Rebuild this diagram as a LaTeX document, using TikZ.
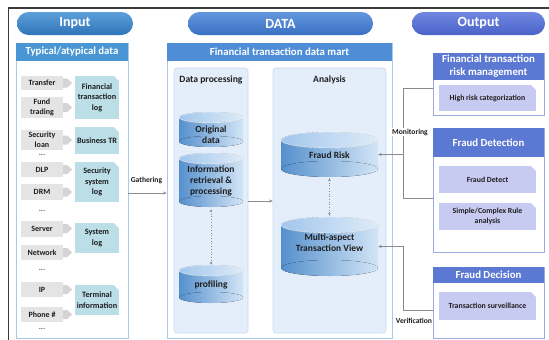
\documentclass[tikz,border=0pt]{standalone}
\usepackage{fontspec}
\setmainfont{Carlito}
\usetikzlibrary{arrows.meta}

\definecolor{frameC}{HTML}{3A3A3A}
\definecolor{pinTop}{HTML}{5DA0DA}
\definecolor{pinBot}{HTML}{2F74B8}
\definecolor{pdTop}{HTML}{6398DE}
\definecolor{pdBot}{HTML}{3A70C2}
\definecolor{poTop}{HTML}{7088E0}
\definecolor{poBot}{HTML}{4A62C8}
\definecolor{titleIn}{HTML}{4A96D4}
\definecolor{titleMart}{HTML}{4F8ED6}
\definecolor{titleOut}{HTML}{5B78D3}
\definecolor{tealC}{HTML}{BBDEE7}
\definecolor{grayC}{HTML}{E4E4E4}
\definecolor{tipC}{HTML}{D4D4D4}
\definecolor{panelBg}{HTML}{E3EEFA}
\definecolor{panelLine}{HTML}{C6DAF0}
\definecolor{inLine}{HTML}{A6CAEA}
\definecolor{outLine}{HTML}{9CAADF}
\definecolor{lavC}{HTML}{C8CBF1}
\definecolor{linkC}{HTML}{8A8A8A}
\definecolor{cylL}{HTML}{5590CD}
\definecolor{cylR}{HTML}{D3E5F6}
\definecolor{cylTL}{HTML}{A3C6EC}
\definecolor{cylTR}{HTML}{DDEBF8}
\definecolor{txtC}{HTML}{1E1E1E}

% database cylinder: name, centre x, top y, bottom y, x radius, y radius
\newcommand\dbcyl[6]{%
  \fill[left color=cylL, right color=cylR] ({#2-#5},{#3+#6}) rectangle ({#2+#5},{#4-#6});
  \fill[left color=cylL, right color=cylR] (#2,{#4-#6}) ellipse [x radius=#5, y radius=#6];
  \fill[left color=cylTL, right color=cylTR, draw=white!70!cylTR, line width=0.4pt]
    (#2,{#3+#6}) ellipse [x radius=#5, y radius=#6];
  \node[cylbox, minimum width={2*#5}, minimum height={#4-#3}] (#1) at (#2,{(#3+#4)/2}) {};
}

% grey source item with its small block arrow
\newcommand\inrow[4]{%
  \node[grayitem, minimum height=#3] (#1) at (42,#2) {#4};
  \fill[tipC] (#1.east) ++(0,-4.5) -- ++(4,0) -- ++(5,4.5) -- ++(-5,4.5) -- ++(-4,0) -- cycle;
}

\begin{document}
\begin{tikzpicture}[x=1pt, y=-1pt, font=\bfseries,
  pill/.style={rounded corners=11.5pt, minimum height=23, inner sep=0,
    text=white, font=\fontsize{14}{16}\selectfont\bfseries},
  titlebar/.style={inner sep=0, text=white, font=\fontsize{10.8}{13}\selectfont\bfseries},
  panelin/.style={draw=inLine, line width=0.8pt, inner sep=0},
  subpanel/.style={draw=panelLine, fill=panelBg, rounded corners=3pt, line width=0.6pt, inner sep=0},
  subhead/.style={inner sep=0, text=txtC, font=\fontsize{9.6}{11}\selectfont\bfseries},
  grayitem/.style={fill=grayC, minimum width=42, inner sep=0, align=center, text=txtC,
    font=\fontsize{8}{9.6}\selectfont\bfseries},
  cutcorner/.style={path picture={\fill[white] (path picture bounding box.north east)
    -- ++(-5pt,0) -- ++(5pt,-5pt) -- cycle;}},
  tealitem/.style={fill=tealC, cutcorner, minimum width=44, inner sep=0, align=center, text=txtC,
    font=\fontsize{8.2}{10.5}\selectfont\bfseries},
  dotsym/.style={inner sep=0, text=txtC!70, font=\fontsize{8}{9}\selectfont\bfseries},
  cylbox/.style={inner sep=0},
  cyltext/.style={inner sep=0, align=center, text=txtC, font=\fontsize{9.5}{11.2}\selectfont\bfseries},
  outbox/.style={draw=outLine, line width=0.7pt, minimum width=111, inner sep=0},
  outtitle/.style={fill=titleOut, minimum width=111, inner sep=0, align=center, text=white,
    font=\fontsize{10.8}{13}\selectfont\bfseries},
  lavitem/.style={fill=lavC, cutcorner, minimum width=97, inner sep=0, align=center, text=txtC,
    font=\fontsize{7.8}{10}\selectfont\bfseries},
  link/.style={draw=linkC, line width=0.6pt},
  tip/.style={-{Stealth[length=3.5pt, width=3pt]}},
  dottip/.style={{Stealth[length=3pt, width=2.6pt]}-{Stealth[length=3pt, width=2.6pt]}, dotted,
    draw=linkC, line width=0.7pt},
  lbl/.style={inner sep=1pt, text=txtC, font=\fontsize{7.6}{9}\selectfont\bfseries}
]
\useasboundingbox (0,0) rectangle (549,340);
\fill[white] (0,0) rectangle (549,340);
\draw[frameC, line width=1.1pt] (8.5,340) -- (8.5,8) -- (549,8);

% section headers
\node[pill, top color=pinTop, bottom color=pinBot, minimum width=116] (pin) at (75,23.5) {Input};
\node[pill, top color=pdTop, bottom color=pdBot, minimum width=185] (pdata) at (280.5,23.5) {DATA};
\node[pill, top color=poTop, bottom color=poBot, minimum width=133] (pout) at (478.5,23.5) {Output};

% ---- input sources
\node[panelin, minimum width=112, minimum height=295] (inp) at (72,190.5) {};
\node[titlebar, fill=titleIn, minimum width=112, minimum height=18] (inp-title) at (72,52) {Typical/atypical data};

\inrow{transfer}{83}{14}{Transfer}
\inrow{fund}{107.5}{21}{Fund\\trading}
\inrow{loan}{140}{20}{Security\\loan}
\inrow{dlp}{169.5}{15}{DLP}
\inrow{drm}{192}{16}{DRM}
\inrow{server}{228.5}{16}{Server}
\inrow{network}{252.5}{15}{Network}
\inrow{ip}{289.5}{15}{IP}
\inrow{phone}{314.5}{15}{Phone \#}

\node[tealitem, minimum height=43] (ftl) at (97,97.5) {Financial\\transaction\\log};
\node[tealitem, minimum height=27] (btr) at (97,140.5) {Business TR};
\node[tealitem, minimum height=40] (ssl) at (97,182) {Security\\system\\log};
\node[tealitem, minimum height=30] (syl) at (97,238) {System\\log};
\node[tealitem, minimum height=30] (term) at (97,300) {Terminal\\information};

\node[dotsym] (dots1) at (42,155) {...};
\node[dotsym] (dots2) at (42,211) {...};
\node[dotsym] (dots3) at (42,270) {...};
\node[dotsym] (dots4) at (42,329) {...};

% ---- data mart
\node[panelin, minimum width=225, minimum height=295] (mart) at (279.5,190.5) {};
\node[titlebar, fill=titleMart, minimum width=225, minimum height=18] (mart-title) at (279.5,52) {Financial transaction data mart};
\node[subpanel, minimum width=74, minimum height=265] (dp) at (211,200.5) {};
\node[subhead] (dp-title) at (211,80) {Data processing};
\node[subpanel, minimum width=113, minimum height=265] (an) at (329.5,200.5) {};
\node[subhead] (an-title) at (329.5,80) {Analysis};

\dbcyl{orig}{211}{112}{147}{32}{5.5}
\node[cyltext] (orig-t) at (211,135) {Original\\data};
\dbcyl{info}{211}{153}{207}{32}{5.5}
\node[cyltext] (info-t) at (211,181) {Information\\retrieval \&\\processing};
\dbcyl{prof}{211}{265}{303}{32}{5.5}
\node[cyltext] (prof-t) at (211,285) {profiling};
\dbcyl{fr}{329.5}{132}{177}{48.5}{8}
\node[cyltext] (fr-t) at (329.5,155) {Fraud Risk};
\dbcyl{mav}{329.5}{217}{276}{48.5}{8}
\node[cyltext] (mav-t) at (329.5,243) {Multi-aspect\\Transaction View};

\draw[dottip, shorten <=2pt] (info.south) -- (prof.north);
\draw[dottip, shorten <=1pt, shorten >=1pt] (fr.south) -- (mav.north);
\draw[link, tip] (dp.east |- 0,201) -- (an.west |- 0,201);

% ---- outputs
\node[outbox, minimum height=62] (ftrm) at (488.5,84) {};
\node[outtitle, minimum height=27] (ftrm-title) at (488.5,66.5) {Financial transaction\\risk management};
\node[lavitem, minimum height=26] (hrc) at (487.5,98) {High risk categorization};

\node[outbox, minimum height=124] (fd) at (488.5,190) {};
\node[outtitle, minimum height=29] (fd-title) at (488.5,142.5) {Fraud Detection};
\node[lavitem, minimum height=27] (fdet) at (487.5,179.5) {Fraud Detect};
\node[lavitem, minimum height=27] (rule) at (487.5,216.5) {Simple/Complex Rule\\analysis};

\node[outbox, minimum height=71] (fdec) at (488.5,302.5) {};
\node[outtitle, minimum height=16] (fdec-title) at (488.5,275) {Fraud Decision};
\node[lavitem, minimum height=28] (tsv) at (487.5,306) {Transaction surveillance};

% ---- connectors
\draw[link, tip] (inp.east |- 0,193) -- (mart.west |- 0,193);
\node[lbl] (gath) at (146.5,180) {Gathering};

\draw[link] (ftrm.west |- 0,88) -- (403,88) -- (403,198) -- (fd.west |- 0,198);
\draw[link, tip] (fr.east -| 403,0) -- (fr.east);
\node[lbl, fill=white] (mon) at (410,132) {Monitoring};

\draw[link, tip] (fdec.west |- 0,310) -- (403,310) |- (mav.east);
\node[lbl] (ver) at (414,320.5) {Verification};
\end{tikzpicture}
\end{document}
